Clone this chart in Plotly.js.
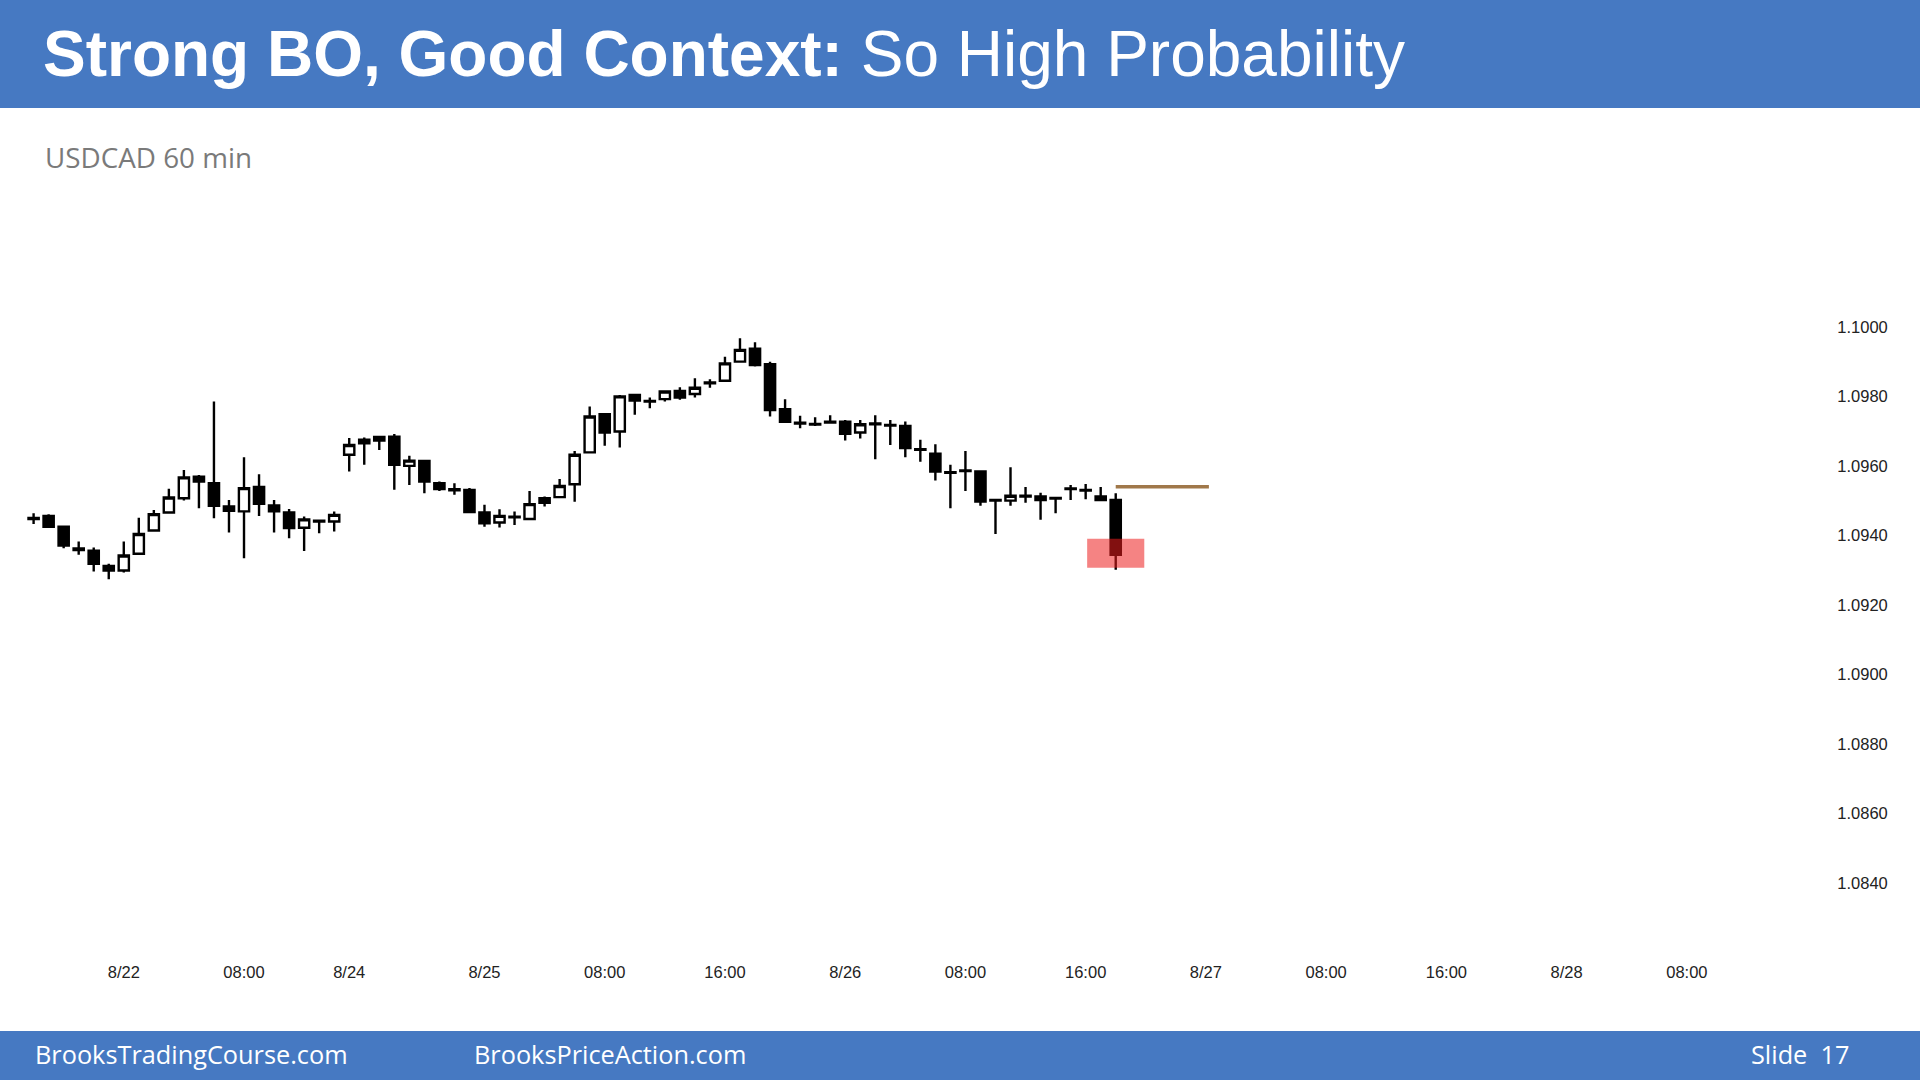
<!DOCTYPE html>
<html>
<head>
<meta charset="utf-8">
<script src="https://cdn.plot.ly/plotly-3.0.1.min.js"></script>
<style>
  html, body { margin: 0; padding: 0; background: #ffffff; }
  #chart { width: 1920px; height: 1080px; }
</style>
</head>
<body>
<div id="chart"></div>
<script>
// ---- Data (USDCAD 60 min, hourly bars 8/21 18:00 .. 8/26 18:00) ----
const barIndex = [
  0,1,2,3,4,5,6,7,8,9,10,11,12,13,14,15,16,17,18,19,20,
  21,22,23,24,25,26,27,28,29,30,31,32,33,34,35,36,37,38,39,40,
  41,42,43,44,45,46,47,48,49,50,51,52,53,54,55,56,57,58,59,60,
  61,62,63,64,65,66,67,68,69,70,71,72
];
const openPx = [
  1.09450,1.09456,1.09425,1.09362,1.09356,1.09312,1.09299,1.09347,1.09414,1.09466,1.09507,
  1.09569,1.09550,1.09483,1.09469,1.09539,1.09486,1.09466,1.09422,1.09442,1.09440,
  1.09632,1.09675,1.09683,1.09684,1.09600,1.09614,1.09550,1.09533,1.09531,1.09466,
  1.09437,1.09452,1.09447,1.09507,1.09510,1.09547,1.09639,1.09749,1.09699,1.09804,
  1.09785,1.09792,1.09816,1.09807,1.09838,1.09845,1.09900,1.09937,1.09893,1.09763,
  1.09724,1.09721,1.09727,1.09727,1.09696,1.09722,1.09716,1.09715,1.09648,1.09635,
  1.09582,1.09587,1.09584,1.09502,1.09500,1.09512,1.09512,1.09508,1.09533,1.09531,
  1.09512,1.09502
];
const highPx = [
  1.09464,1.09461,1.09428,1.09382,1.09365,1.09318,1.09382,1.09451,1.09473,1.09534,1.09588,
  1.09574,1.09785,1.09502,1.09625,1.09576,1.09502,1.09476,1.09454,1.09444,1.09469,
  1.09680,1.09682,1.09686,1.09692,1.09629,1.09617,1.09555,1.09550,1.09536,1.09488,
  1.09475,1.09469,1.09528,1.09512,1.09562,1.09643,1.09771,1.09752,1.09804,1.09807,
  1.09797,1.09818,1.09826,1.09852,1.09849,1.09914,1.09967,1.09956,1.09900,1.09792,
  1.09744,1.09740,1.09746,1.09732,1.09732,1.09746,1.09732,1.09728,1.09675,1.09662,
  1.09603,1.09643,1.09587,1.09505,1.09596,1.09539,1.09523,1.09510,1.09545,1.09548,
  1.09539,1.09521
];
const lowPx = [
  1.09433,1.09422,1.09363,1.09344,1.09296,1.09274,1.09293,1.09344,1.09411,1.09464,1.09500,
  1.09478,1.09449,1.09408,1.09334,1.09456,1.09408,1.09392,1.09355,1.09406,1.09411,
  1.09584,1.09603,1.09646,1.09531,1.09545,1.09521,1.09528,1.09517,1.09464,1.09425,
  1.09423,1.09430,1.09445,1.09483,1.09507,1.09497,1.09636,1.09658,1.09653,1.09747,
  1.09766,1.09785,1.09790,1.09797,1.09825,1.09842,1.09897,1.09886,1.09742,1.09724,
  1.09708,1.09715,1.09722,1.09673,1.09679,1.09619,1.09660,1.09625,1.09612,1.09558,
  1.09478,1.09528,1.09485,1.09404,1.09485,1.09494,1.09445,1.09464,1.09502,1.09504,
  1.09500,1.09301
];
const closePx = [
  1.09447,1.09425,1.09371,1.09358,1.09318,1.09299,1.09342,1.09404,1.09461,1.09509,1.09567,
  1.09555,1.09485,1.09471,1.09536,1.09491,1.09469,1.09421,1.09446,1.09440,1.09459,
  1.09660,1.09665,1.09673,1.09603,1.09615,1.09555,1.09533,1.09530,1.09467,1.09435,
  1.09456,1.09454,1.09490,1.09494,1.09542,1.09632,1.09742,1.09696,1.09800,1.09788,
  1.09787,1.09814,1.09797,1.09825,1.09840,1.09895,1.09934,1.09890,1.09761,1.09727,
  1.09722,1.09719,1.09725,1.09692,1.09720,1.09720,1.09718,1.09651,1.09646,1.09584,
  1.09580,1.09585,1.09497,1.09500,1.09514,1.09514,1.09502,1.09506,1.09535,1.09529,
  1.09502,1.09344
];

// x-axis tick labels (at bar index positions)
const tickIndex  = [6, 14, 21, 30, 38, 46, 54, 62, 70, 78, 86, 94, 102, 110];
const tickLabels = ['8/22','08:00','8/24','8/25','08:00','16:00','8/26','08:00','16:00','8/27','08:00','16:00','8/28','08:00'];

// annotation levels
const entryLineX = [72, 78.2];
const entryLineY = [1.09540, 1.09540];
const zoneX = [70.1, 73.9];
const zoneY = [1.09307, 1.09390];

// ---- Page geometry helpers (page px -> paper coords) ----
const W = 1920, H = 1080;
const mL = 20, mR = 100, mT = 280, mB = 135;
const pw = W - mL - mR, ph = H - mT - mB;
const px = v => (v - mL) / pw;
const py = v => (H - mB - v) / ph;

const blue = '#4679c2';

const candles = {
  type: 'candlestick',
  x: barIndex,
  open: openPx, high: highPx, low: lowPx, close: closePx,
  increasing: { line: { color: '#000000', width: 2.4 }, fillcolor: '#ffffff' },
  decreasing: { line: { color: '#000000', width: 2.4 }, fillcolor: '#000000' },
  whiskerwidth: 0,
  hoverinfo: 'skip',
  showlegend: false
};

const entryLine = {
  type: 'scatter', mode: 'lines',
  x: entryLineX, y: entryLineY,
  line: { color: '#a0784a', width: 3.5 },
  hoverinfo: 'skip', showlegend: false
};

const footFont = { family: '"Open Sans", "Noto Sans", sans-serif', size: 25.3, color: '#ffffff' };

const layout = {
  width: W, height: H,
  paper_bgcolor: '#ffffff',
  plot_bgcolor: '#ffffff',
  margin: { l: mL, r: mR, t: mT, b: mB, pad: 0 },
  showlegend: false,
  hovermode: false,
  boxgap: 0.32,
  boxgroupgap: 0,
  title: {
    text: '<b>Strong BO, Good Context:</b> So High Probability',
    font: { family: '"Liberation Sans", Arial, sans-serif', size: 64, color: '#ffffff' },
    xref: 'container', yref: 'container',
    x: 43 / W, xanchor: 'left',
    y: 1 - 54 / H, yanchor: 'middle'
  },
  xaxis: {
    range: [-0.905, 118.86],
    rangeslider: { visible: false },
    tickmode: 'array',
    tickvals: tickIndex,
    ticktext: tickLabels,
    ticks: 'outside', ticklen: 12, tickcolor: 'rgba(0,0,0,0)',
    tickfont: { family: '"Liberation Sans", Arial, sans-serif', size: 16.5, color: '#222222' },
    showgrid: false, zeroline: false, showline: false,
    fixedrange: true
  },
  yaxis: {
    side: 'right',
    range: [1.08221, 1.10135],
    tick0: 1.08, dtick: 0.002,
    tickformat: '.4f',
    ticks: 'outside', ticklen: 13, tickcolor: 'rgba(0,0,0,0)',
    tickfont: { family: '"Liberation Sans", Arial, sans-serif', size: 16.5, color: '#222222' },
    showgrid: false, zeroline: false, showline: false,
    fixedrange: true
  },
  shapes: [
    { type: 'rect', xref: 'paper', yref: 'paper', layer: 'below',
      x0: px(0), x1: px(W), y0: py(108), y1: py(0),
      fillcolor: blue, line: { width: 0 } },
    { type: 'rect', xref: 'paper', yref: 'paper', layer: 'below',
      x0: px(0), x1: px(W), y0: py(H), y1: py(1031),
      fillcolor: blue, line: { width: 0 } },
    { type: 'rect', xref: 'x', yref: 'y', layer: 'above',
      x0: zoneX[0], x1: zoneX[1], y0: zoneY[0], y1: zoneY[1],
      fillcolor: 'rgba(236,30,30,0.55)', line: { width: 0 } }
  ],
  annotations: [
    { text: 'USDCAD 60 min', xref: 'paper', yref: 'paper',
      x: px(43), y: py(157), xanchor: 'left', yanchor: 'middle', showarrow: false,
      font: { family: '"Open Sans", "Noto Sans", sans-serif', size: 27.8, color: '#7a7a7a' } },
    { text: 'BrooksTradingCourse.com', xref: 'paper', yref: 'paper',
      x: px(33), y: py(1054), xanchor: 'left', yanchor: 'middle', showarrow: false,
      font: footFont },
    { text: 'BrooksPriceAction.com', xref: 'paper', yref: 'paper',
      x: px(472), y: py(1054), xanchor: 'left', yanchor: 'middle', showarrow: false,
      font: footFont },
    { text: 'Slide\u00a0\u00a017', xref: 'paper', yref: 'paper',
      x: px(1749), y: py(1054), xanchor: 'left', yanchor: 'middle', showarrow: false,
      font: footFont }
  ]
};

Plotly.newPlot('chart', [candles, entryLine], layout, { displayModeBar: false, staticPlot: true });
</script>
</body>
</html>
